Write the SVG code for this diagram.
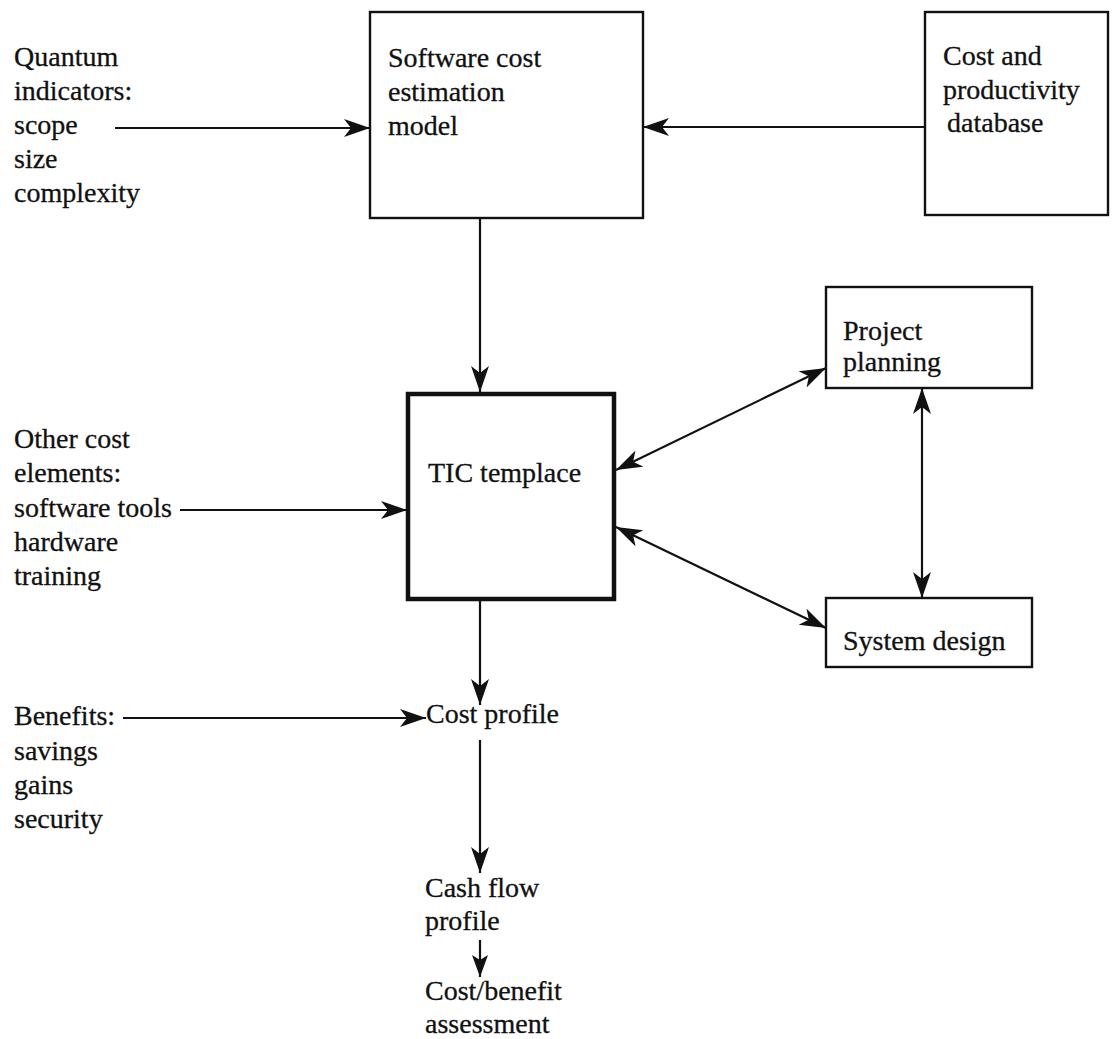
<svg xmlns="http://www.w3.org/2000/svg" width="1112" height="1039" viewBox="0 0 1112 1039">
  <style>
    .box { fill: #ffffff; stroke: #111111; stroke-width: 2.4; }
    .box-heavy { fill: #ffffff; stroke: #111111; stroke-width: 4.5; }
    .lbl { font-family: "Liberation Serif", "Times New Roman", serif; font-size: 28px; fill: #111111; stroke: #111111; stroke-width: 0.3; }
    .edge { fill: none; stroke: #111111; stroke-width: 2.2; }
  </style>
  <defs>
    <marker id="arrow" markerUnits="userSpaceOnUse" markerWidth="28" markerHeight="20" refX="26" refY="9" orient="auto-start-reverse" viewBox="0 0 28 20">
      <path d="M0,0 L26,9 L0,18 L7,9 z" fill="#111111"/>
    </marker>
    <marker id="arrow-small" markerUnits="userSpaceOnUse" markerWidth="24" markerHeight="20" refX="22" refY="9" orient="auto" viewBox="0 0 24 20">
      <path d="M0,1 L22,9 L0,17 L5,9 z" fill="#111111"/>
    </marker>
  </defs>
  <rect width="1112" height="1039" fill="#ffffff"/>

  <!-- connectors -->
  <g id="connectors">
    <line class="edge" x1="115" y1="128" x2="370" y2="128" marker-end="url(#arrow)"/>
    <line class="edge" x1="925" y1="127" x2="643" y2="127" marker-end="url(#arrow)"/>
    <line class="edge" x1="480" y1="218" x2="480" y2="392" marker-end="url(#arrow)"/>
    <line class="edge" x1="180" y1="510" x2="407" y2="510" marker-end="url(#arrow)"/>
    <line class="edge" x1="616" y1="470" x2="826" y2="368" marker-start="url(#arrow)" marker-end="url(#arrow)"/>
    <line class="edge" x1="616" y1="527" x2="826" y2="628" marker-start="url(#arrow)" marker-end="url(#arrow)"/>
    <line class="edge" x1="922" y1="388" x2="922" y2="598" marker-start="url(#arrow)" marker-end="url(#arrow)"/>
    <line class="edge" x1="480" y1="600" x2="480" y2="705" marker-end="url(#arrow)"/>
    <line class="edge" x1="123" y1="718" x2="426" y2="718" marker-end="url(#arrow)"/>
    <line class="edge" x1="480" y1="740" x2="480" y2="873" marker-end="url(#arrow)"/>
    <line class="edge" x1="480" y1="940" x2="480" y2="977" marker-end="url(#arrow-small)"/>
  </g>

  <!-- input lists -->
  <g id="quantum-indicators">
    <text class="lbl" x="14" y="66">Quantum</text>
    <text class="lbl" x="14" y="100">indicators:</text>
    <text class="lbl" x="14" y="134">scope</text>
    <text class="lbl" x="14" y="168">size</text>
    <text class="lbl" x="14" y="202">complexity</text>
  </g>

  <g id="other-cost-elements">
    <text class="lbl" x="14" y="448">Other cost</text>
    <text class="lbl" x="14" y="482">elements:</text>
    <text class="lbl" x="14" y="517">software tools</text>
    <text class="lbl" x="14" y="551">hardware</text>
    <text class="lbl" x="14" y="585">training</text>
  </g>

  <g id="benefits">
    <text class="lbl" x="14" y="725">Benefits:</text>
    <text class="lbl" x="14" y="760">savings</text>
    <text class="lbl" x="14" y="794">gains</text>
    <text class="lbl" x="14" y="828">security</text>
  </g>

  <!-- boxes -->
  <g id="estimation-model">
    <rect class="box" x="370" y="12" width="273" height="206"/>
    <text class="lbl" x="388" y="67">Software cost</text>
    <text class="lbl" x="388" y="101">estimation</text>
    <text class="lbl" x="388" y="135">model</text>
  </g>

  <g id="productivity-database">
    <rect class="box" x="925" y="12" width="183" height="203"/>
    <text class="lbl" x="943" y="65">Cost and</text>
    <text class="lbl" x="943" y="99">productivity</text>
    <text class="lbl" x="947" y="132">database</text>
  </g>

  <g id="tic-template">
    <rect class="box-heavy" x="408" y="394" width="206" height="205"/>
    <text class="lbl" x="428" y="482">TIC templace</text>
  </g>

  <g id="project-planning">
    <rect class="box" x="826" y="287" width="206" height="101"/>
    <text class="lbl" x="843" y="340">Project</text>
    <text class="lbl" x="843" y="371">planning</text>
  </g>

  <g id="system-design">
    <rect class="box" x="826" y="598" width="206" height="69"/>
    <text class="lbl" x="843" y="650">System design</text>
  </g>

  <!-- output chain -->
  <g id="cost-profile">
    <text class="lbl" x="426" y="723">Cost profile</text>
  </g>

  <g id="cash-flow-profile">
    <text class="lbl" x="425" y="897">Cash flow</text>
    <text class="lbl" x="425" y="930">profile</text>
  </g>

  <g id="cost-benefit-assessment">
    <text class="lbl" x="425" y="1000">Cost/benefit</text>
    <text class="lbl" x="425" y="1033">assessment</text>
  </g>
</svg>
